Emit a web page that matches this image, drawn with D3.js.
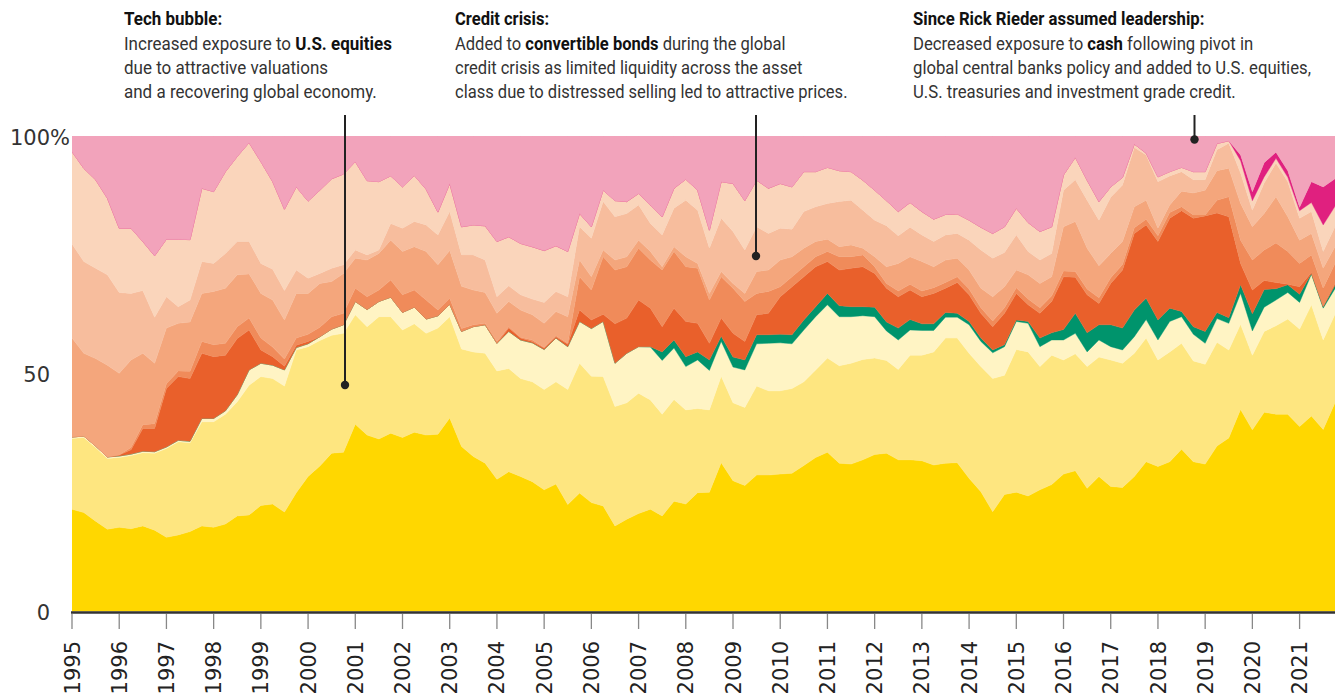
<!DOCTYPE html>
<html><head><meta charset="utf-8">
<script src="https://cdn.jsdelivr.net/npm/d3@7"></script>
<style>
html,body{margin:0;padding:0;background:#fff;}
svg{display:block;}
</style></head><body>
<svg id="chart" width="1335" height="700"></svg>
<script>
const quarters = [1995,1995.25,1995.5,1995.75,1996,1996.25,1996.5,1996.75,1997,1997.25,1997.5,1997.75,1998,1998.25,1998.5,1998.75,1999,1999.25,1999.5,1999.75,2000,2000.25,2000.5,2000.75,2001,2001.25,2001.5,2001.75,2002,2002.25,2002.5,2002.75,2003,2003.25,2003.5,2003.75,2004,2004.25,2004.5,2004.75,2005,2005.25,2005.5,2005.75,2006,2006.25,2006.5,2006.75,2007,2007.25,2007.5,2007.75,2008,2008.25,2008.5,2008.75,2009,2009.25,2009.5,2009.75,2010,2010.25,2010.5,2010.75,2011,2011.25,2011.5,2011.75,2012,2012.25,2012.5,2012.75,2013,2013.25,2013.5,2013.75,2014,2014.25,2014.5,2014.75,2015,2015.25,2015.5,2015.75,2016,2016.25,2016.5,2016.75,2017,2017.25,2017.5,2017.75,2018,2018.25,2018.5,2018.75,2019,2019.25,2019.5,2019.75,2020,2020.25,2020.5,2020.75,2021,2021.25,2021.5,2021.75];
const tickYears = [1995,1996,1997,1998,1999,2000,2001,2002,2003,2004,2005,2006,2007,2008,2009,2010,2011,2012,2013,2014,2015,2016,2017,2018,2019,2020,2021];
const yTickLabels = [{v:0,t:"0"},{v:50,t:"50"},{v:100,t:"100%"}];

const gold = [21.5,20.8,19.0,17.3,17.7,17.4,18.0,17.1,15.6,16.1,
16.8,18.0,17.7,18.4,20.1,20.3,22.3,22.6,20.9,25.0,
28.4,30.6,33.3,33.5,39.4,37.1,36.3,37.5,36.6,37.7,
37.1,37.3,40.7,34.7,32.6,31.2,27.8,29.4,28.4,27.3,
25.6,26.8,22.5,24.9,22.9,22.2,18.0,19.4,20.6,21.5,
20.1,23.2,22.6,25.0,25.1,31.3,27.5,26.5,28.7,28.7,
28.9,29.1,30.7,32.4,33.5,31.2,31.0,31.9,33.0,33.3,
31.9,31.9,31.7,30.8,31.2,31.3,28.0,25.2,21.0,24.6,
25.1,24.3,25.6,26.7,28.9,29.6,25.9,28.4,26.3,26.1,
28.4,31.5,30.5,31.5,34.1,31.5,31.0,34.8,36.5,42.5,
38.2,41.9,41.5,41.5,38.9,41.1,38.3,43.9];
const lightYellow = [14.9,15.8,15.5,14.9,14.7,15.4,15.4,16.2,18.7,19.6,
18.7,21.9,22.2,23.1,24.0,27.3,27.1,26.4,26.5,30.0,
27.3,26.4,24.8,25.0,23.0,22.8,25.7,24.5,22.6,22.8,
21.4,22.3,21.3,20.5,22.0,23.1,22.8,21.7,20.6,21.0,
21.1,21.5,24.2,27.3,26.6,27.2,25.1,24.5,25.3,23.0,
21.4,21.4,19.8,17.7,17.3,18.2,16.4,16.4,18.7,17.7,
17.5,17.8,17.6,18.4,19.8,20.5,21.2,21.1,20.3,19.5,
19.0,22.0,22.2,23.8,26.3,26.2,26.3,26.3,28.0,25.1,
30.0,30.3,25.9,27.2,24.0,24.6,25.6,25.1,26.6,26.1,
25.9,26.0,22.4,23.1,22.3,21.2,21.0,21.8,18.5,17.9,
15.7,17.0,18.6,20.0,20.5,23.4,18.8,18.6];
const paleYellow = [0.3,0.3,0.3,0.3,0.3,0.3,0.3,0.3,0.3,0.3,
0.3,0.7,0.7,0.7,1.5,3.2,2.8,2.8,3.4,0.5,
0.6,0.8,1.3,1.8,2.8,3.6,3.2,4.1,3.7,3.5,
3.0,2.6,2.6,3.7,5.3,6.0,5.8,7.8,8.1,8.2,
8.4,9.2,9.0,8.8,10.0,11.6,9.1,10.4,9.8,11.1,
11.3,10.8,9.1,10.2,8.3,7.3,7.5,7.9,8.9,10.0,
10.1,9.4,10.9,11.2,11.2,10.3,9.8,9.2,8.7,6.2,
6.2,5.3,5.2,4.5,4.4,4.4,6.0,5.3,5.4,6.0,
5.9,6.0,4.2,3.2,4.2,4.3,3.1,3.6,2.8,2.8,
3.5,3.9,4.2,6.4,5.6,5.6,4.4,5.0,5.6,6.5,
5.1,5.1,5.4,5.6,5.6,6.4,6.7,5.4];
const green = [0,0,0,0,0,0,0,0,0,0,
0,0,0,0,0,0,0,0,0,0,
0,0,0,0,0,0,0,0,0,0,
0,0,0,0,0,0,0,0,0,0,
0,0,0,0,0,0,0,0,0,0.1,
1.8,1.7,2.1,1.7,2.2,1.1,2.1,2.1,1.9,1.8,
1.8,1.9,2.1,2.1,2.4,2.3,2.1,1.9,2.0,1.9,
2.5,2.2,1.4,1.4,1.0,0.8,0.7,0.7,0.6,0.4,
0.3,0.4,1.8,1.5,2.2,4.2,4.0,3.2,4.6,4.6,
5.6,4.5,4.2,2.8,1.1,1.6,2.5,1.3,1.2,1.8,
3.6,3.7,2.4,1.6,1.7,0.2,0.3,0.7];
const darkOrange = [0,0,0,0,0.2,0.9,4.8,4.9,12.3,13.4,
13.2,13.7,13.0,11.7,11.8,8.4,2.8,1.8,0.8,0.5,
0.5,0,0,0,0,0,0,0,0,0,
0,0,0,0,0,0,0,0.7,0.4,0.3,
0.3,0.3,0.5,2.4,1.8,1.5,8.3,7.4,9.8,8.1,
5.3,6.7,7.4,6.0,3.5,3.8,5.0,3.9,4.2,4.5,
7.9,10.1,9.1,8.4,6.7,7.5,8.1,8.4,7.1,7.1,
6.6,6.2,5.7,6.4,5.1,6.5,5.6,5.2,4.9,6.6,
5.6,3.5,5.2,6.6,11.1,7.6,8.0,4.5,8.7,12.2,
16.1,15.4,16.5,18.9,21.2,22.8,24.3,20.9,21.2,4.5,
5.0,1.9,1.3,0.1,1.6,0.2,0.1,0.4];
const orange = [0,0,0,0,0,0.5,0.8,1.0,1.0,1.2,
1.5,2.5,2.5,2.5,2.5,2.5,2.5,2.0,1.5,1.5,
1.5,2.0,2.6,2.4,2.8,2.7,2.4,3.6,3.7,3.6,
4.0,1.2,1.3,0.6,0.4,0.3,0.4,0.3,0.2,0.3,
0.1,0.2,0.2,7.0,6.3,12.1,11.3,10.8,10.9,10.1,
11.9,11.9,11.5,11.6,9.1,8.7,9.5,8.4,4.5,4.6,
2.1,2.1,2.1,2.1,2.1,2.8,2.4,2.5,1.4,1.0,
1.2,1.2,1.2,1.2,1.2,1.2,1.2,1.2,1.2,1.2,
1.2,1.2,1.2,1.2,1.2,1.2,1.2,1.2,1.2,1.2,
1.2,1.2,1.2,1.2,0.8,0.7,0.2,2.7,4.2,4.9,
6.3,6.4,8.3,6.9,4.9,3.7,3.8,4.2];
const salmon = [20.8,17.4,18.4,19.3,17.2,18.4,15.0,12.7,11.7,10.0,
10.4,10.1,11.2,11.6,10.9,9.3,9.4,9.9,8.2,9.4,
8.6,9.2,7.4,8.4,6.3,7.7,7.7,8.4,9.1,9.1,
10.2,9.5,10.0,8.9,7.3,6.5,5.9,5.3,5.7,5.3,
5.1,5.1,5.6,3.5,2.8,1.4,2.1,2.1,1.7,1.8,
0.7,1.0,2.1,1.0,1.4,1.1,1.0,1.7,4.6,4.5,
5.6,4.2,3.9,3.2,2.6,2.1,2.5,1.4,2.1,3.5,
5.8,5.8,6.2,4.4,4.7,3.9,4.0,4.1,5.1,4.4,
3.7,5.1,5.1,4.0,9.3,10.5,8.6,6.7,5.1,4.8,
4.4,4.0,1.6,1.6,3.3,4.6,5.2,6.2,6.0,7.7,
7.0,7.7,9.7,7.3,4.9,4.5,4.2,3.5];
const lightSalmon = [19.8,19.3,19.0,19.0,17.0,14.0,13.2,9.7,6.6,3.5,
4.6,6.7,5.9,7.3,7.0,6.8,6.3,6.5,6.2,4.9,
3.2,2.1,2.8,1.8,1.7,1.1,0.7,3.5,4.9,5.3,
5.6,6.3,8.2,6.6,7.4,6.8,3.5,3.3,3.2,3.3,
4.4,4.2,4.2,7.0,8.1,10.2,9.1,9.1,7.4,5.9,
6.7,8.1,11.9,11.2,9.5,11.2,10.9,9.1,9.4,7.7,
6.7,5.8,7.7,7.3,7.5,9.5,9.4,8.0,7.7,8.6,
5.8,6.2,5.6,5.3,5.3,5.2,6.3,8.0,8.1,7.2,
7.4,4.9,4.9,4.9,7.7,8.8,10.1,9.6,11.8,11.9,
12.5,9.5,9.8,6.1,4.1,2.8,2.2,4.4,5.3,6.4,
3.5,6.4,7.1,7.4,4.6,4.6,3.5,4.2];
const peach = [19.4,19.6,18.6,16.1,13.5,13.7,10.3,12.9,12.1,14.2,
12.7,15.4,15.1,17.2,17.9,20.8,21.4,18.4,17.1,17.5,
16.2,17.5,18.8,19.1,18.6,15.6,14.4,10.0,8.7,9.7,
7.5,4.8,5.9,5.9,6.3,7.2,11.6,10.3,10.8,11.0,
10.9,9.6,9.5,2.8,2.4,2.4,3.4,2.5,2.4,3.9,
3.8,4.2,4.4,4.2,3.8,7.7,10.1,10.4,9.8,9.5,
9.4,8.9,8.4,7.4,7.6,6.5,6.0,6.3,6.3,5.3,
5.1,5.2,4.9,4.7,4.3,4.1,4.2,4.8,5.2,5.4,
5.6,6.1,6.0,5.6,3.2,4.7,4.2,3.9,2.2,1.6,
0.7,0.4,1.0,0.9,0.9,1.7,1.7,1.3,0.5,2.6,
2.0,1.3,1.0,0.9,1.6,1.9,5.6,4.3];
const magenta = [0,0,0,0,0,0,0,0,0,0,
0,0,0,0,0,0,0,0,0,0,
0,0,0,0,0,0,0,0,0,0,
0,0,0,0,0,0,0,0,0,0,
0,0,0,0,0,0,0,0,0,0,
0,0,0,0,0,0,0,0,0,0,
0,0,0,0,0,0,0,0,0,0,
0,0,0,0,0,0,0,0,0,0,
0,0,0,0,0,0,0,0,0,0,
0,0,0,0,0,0,0,0,0,1.2,
1.9,3.0,1.3,1.4,0.7,4.4,8.0,5.8];
const pink = [3.3,6.8,9.2,13.1,19.4,19.4,22.2,25.2,21.7,21.7,
21.8,11.0,11.7,7.5,4.3,1.4,5.4,9.6,15.4,10.7,
13.7,11.4,9.0,8.0,5.4,9.4,9.6,8.4,10.7,8.3,
11.2,16.0,10.0,19.1,18.7,18.9,22.2,21.2,22.6,23.3,
24.1,23.1,24.3,16.3,19.1,11.4,13.6,13.8,12.1,14.5,
17.0,11.0,9.1,11.4,19.8,9.6,10.0,13.6,9.3,11.0,
10.0,10.7,7.5,7.5,6.6,7.3,7.5,9.3,11.4,13.6,
15.9,14.0,15.9,17.5,16.5,16.4,17.7,19.2,20.5,19.1,
15.2,18.2,20.1,19.1,8.2,4.5,9.3,13.8,10.7,8.7,
1.7,3.6,8.6,7.5,6.6,7.5,7.5,1.6,1.0,4.0,
11.7,5.6,3.4,7.3,15.0,9.6,10.7,9.0];

const seriesList = [
  {key:"gold", values:gold, color:"#FFD700"},
  {key:"lightYellow", values:lightYellow, color:"#FEE680"},
  {key:"paleYellow", values:paleYellow, color:"#FFF4C4"},
  {key:"green", values:green, color:"#00946C"},
  {key:"darkOrange", values:darkOrange, color:"#E9602B"},
  {key:"orange", values:orange, color:"#F08B5A"},
  {key:"salmon", values:salmon, color:"#F4A67C"},
  {key:"lightSalmon", values:lightSalmon, color:"#F7BD9D"},
  {key:"peach", values:peach, color:"#FAD5BB"},
  {key:"magenta", values:magenta, color:"#E0207F"},
  {key:"pink", values:pink, color:"#F2A3BB"}
];

const rows = quarters.map((q,i)=>{
  const r = {q:q};
  seriesList.forEach(s=>{ r[s.key] = s.values[i]; });
  return r;
});

const svg = d3.select("#chart");
const x = d3.scaleLinear().domain([1995, 2021.75]).range([72, 1335]);
const y = d3.scaleLinear().domain([0, 100]).range([611.5, 136]);

svg.append("defs").append("clipPath").attr("id","plotclip")
  .append("rect").attr("x",72).attr("y",136).attr("width",1335-72).attr("height",611.5-136);

const stack = d3.stack().keys(seriesList.map(s=>s.key));
const stacked = stack(rows);
const area = d3.area()
  .x(d=>x(d.data.q))
  .y0(d=>y(d[0]))
  .y1(d=>y(d[1]))
  .curve(d3.curveLinear);

const g = svg.append("g").attr("clip-path","url(#plotclip)");
g.selectAll("path.layer").data(stacked).join("path")
  .attr("class","layer")
  .attr("d", area)
  .attr("fill", (d,i)=>seriesList[i].color)
  .attr("stroke", (d,i)=>seriesList[i].color)
  .attr("stroke-width", 0.4);

// x axis baseline
svg.append("line").attr("x1",71).attr("x2",1335).attr("y1",612.5).attr("y2",612.5)
  .attr("stroke","#333").attr("stroke-width",2.5);
// ticks
const tickG = svg.append("g");
tickG.selectAll("line").data(tickYears).join("line")
  .attr("x1",d=>x(d)).attr("x2",d=>x(d)).attr("y1",614).attr("y2",629)
  .attr("stroke","#888").attr("stroke-width",1.3);
tickG.selectAll("text").data(tickYears).join("text")
  .attr("transform",d=>`translate(${x(d)},641) rotate(-90)`)
  .attr("text-anchor","end").attr("dy","0.36em")
  .attr("font-family","DejaVu Sans, sans-serif").attr("font-size",21)
  .attr("fill","#222").text(d=>d);

// y labels
svg.selectAll("text.ylab").data(yTickLabels).join("text").attr("class","ylab")
  .attr("x",d=>d.v===100?10:50).attr("y",d=>y(d.v)+1)
  .attr("dy","0.36em")
  .attr("text-anchor",d=>d.v===100?"start":"end")
  .attr("font-family","DejaVu Sans, sans-serif").attr("font-size",21)
  .attr("fill","#333").text(d=>d.t);

// annotations
const notes = [
  {x:124, lineX:345, dotY:385, refLine:1, refWidth:268, lines:[
    [{t:"Tech bubble:",b:true}],
    [{t:"Increased exposure to "},{t:"U.S. equities",b:true}],
    [{t:"due to attractive valuations"}],
    [{t:"and a recovering global economy."}]]},
  {x:455, lineX:756, dotY:256, refLine:3, refWidth:393, lines:[
    [{t:"Credit crisis:",b:true}],
    [{t:"Added to "},{t:"convertible bonds",b:true},{t:" during the global"}],
    [{t:"credit crisis as limited liquidity across the asset"}],
    [{t:"class due to distressed selling led to attractive prices."}]]},
  {x:913, lineX:1194.5, dotY:139.5, refLine:2, refWidth:398, lines:[
    [{t:"Since Rick Rieder assumed leadership:",b:true}],
    [{t:"Decreased exposure to "},{t:"cash",b:true},{t:" following pivot in"}],
    [{t:"global central banks policy and added to U.S. equities,"}],
    [{t:"U.S. treasuries and investment grade credit."}]]}
];
const baselines = [25, 50, 74, 98];
notes.forEach(n=>{
  svg.append("line").attr("x1",n.lineX).attr("x2",n.lineX).attr("y1",115).attr("y2",n.dotY)
    .attr("stroke","#222").attr("stroke-width",2);
  svg.append("circle").attr("cx",n.lineX).attr("cy",n.dotY).attr("r",4.2).attr("fill","#222");
  const ng = svg.append("g").attr("transform",`translate(${n.x},0)`);
  const inner = ng.append("g");
  const texts = [];
  n.lines.forEach((ln,li)=>{
    const t = inner.append("text").attr("x",0).attr("y",baselines[li])
      .attr("font-family","Roboto, sans-serif").attr("font-size",18).attr("fill","#333");
    ln.forEach(seg=>{
      t.append("tspan").text(seg.t)
        .attr("font-weight",seg.b?"700":"400")
        .attr("fill",seg.b?"#111":"#333");
    });
    texts.push(t.node());
  });
  const w = texts[n.refLine].getComputedTextLength();
  inner.attr("transform",`scale(${n.refWidth / w},1)`);
});
</script>
</body></html>
